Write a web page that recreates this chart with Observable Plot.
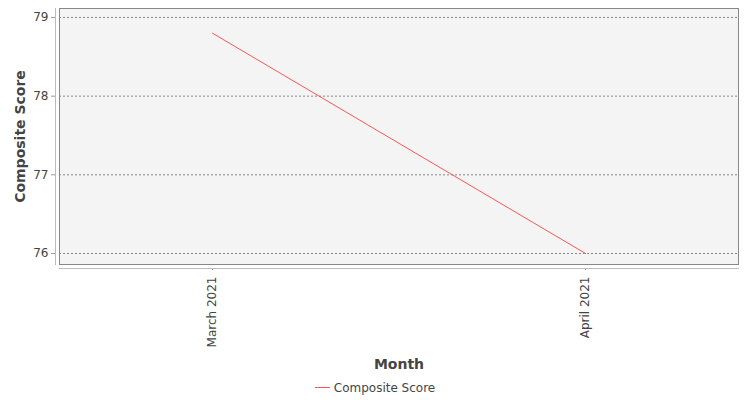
<!DOCTYPE html>
<html>
<head>
<meta charset="utf-8">
<script src="https://cdn.jsdelivr.net/npm/d3@7"></script>
<script src="https://cdn.jsdelivr.net/npm/@observablehq/plot@0.6"></script>
<style>
  html, body { margin: 0; padding: 0; background: #fff; }
  #chart { width: 750px; }
  .legend { width: 750px; height: 25px; display: flex; justify-content: center; align-items: center;
    font-family: "DejaVu Sans", sans-serif; font-size: 12px; color: #444; }
  .legend .swatch { display: inline-block; width: 15px; height: 1px; background: #ff5555; margin-right: 4px; }
</style>
</head>
<body>
<div id="chart"></div>
<script>
const months = ["March 2021", "April 2021"];
const scores = [78.8, 76.0];
const yTicks = [76, 77, 78, 79];
const seriesName = "Composite Score";
const xTitle = "Month";
const yTitle = "Composite Score";

const data = months.map((m, i) => ({month: m, score: scores[i]}));

const chart = Plot.plot({
  width: 750,
  height: 375,
  marginLeft: 59,
  marginRight: 12,
  marginTop: 8,
  marginBottom: 111,
  style: {fontFamily: "DejaVu Sans, sans-serif", fontSize: "12px", color: "#444", background: "#fff", overflow: "visible"},
  x: {type: "point", domain: months, padding: 0.408, label: null},
  y: {domain: [75.86, 79.114], label: null},
  marks: [
    Plot.frame({fill: "#f4f4f4", stroke: "#888"}),
    Plot.ruleY(yTicks, {stroke: "#888", strokeWidth: 1, strokeDasharray: "2,2"}),
    Plot.axisY(yTicks, {tickSize: 4, dx: -4, tickPadding: 3, tickFormat: "d", label: null, stroke: "#999", fill: "#444"}),
    Plot.frame({anchor: "left", dx: -4, stroke: "#bbb"}),
    Plot.axisX({tickSize: 2, dy: 4, tickRotate: -90, tickPadding: 6, label: null, stroke: "#999", fill: "#444"}),
    Plot.frame({anchor: "bottom", dy: 4, stroke: "#bbb"}),
    Plot.lineY(data, {x: "month", y: "score", stroke: "#ff5555", strokeWidth: 1}),
    Plot.text([yTitle], {frameAnchor: "left", dx: -39, rotate: -90, textAnchor: "middle", lineAnchor: "middle", fontSize: 14, fontWeight: "bold", fill: "#444"}),
    Plot.text([xTitle], {frameAnchor: "bottom", dy: 100, lineAnchor: "middle", fontSize: 14, fontWeight: "bold", fill: "#444"})
  ]
});
document.getElementById("chart").appendChild(chart);

const legend = document.createElement("div");
legend.className = "legend";
legend.innerHTML = `<span class="swatch"></span><span></span>`;
legend.lastChild.textContent = seriesName;
document.body.appendChild(legend);
</script>
</body>
</html>
